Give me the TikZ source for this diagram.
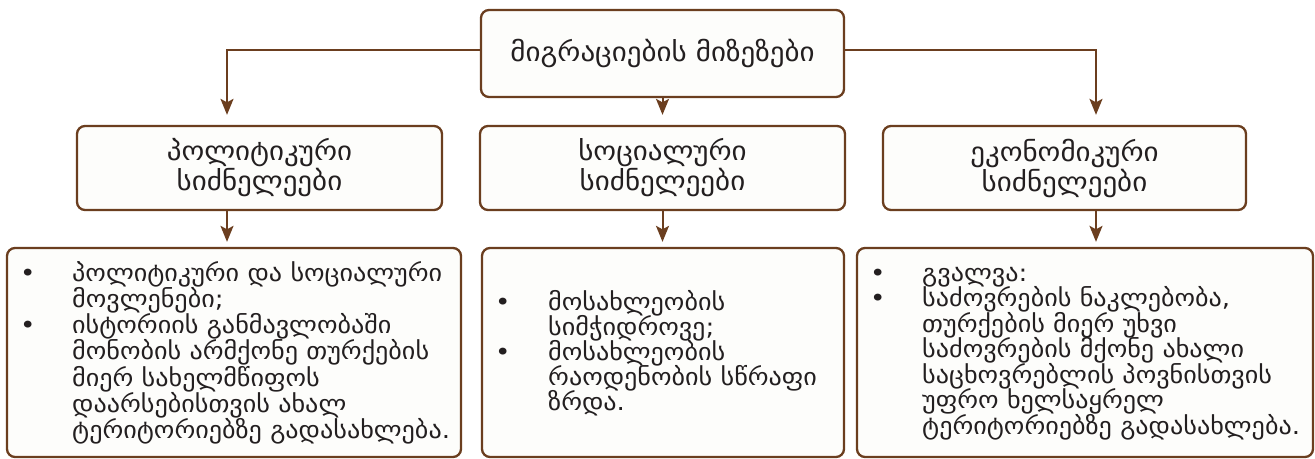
\documentclass[tikz,border=0pt]{standalone}
\usepackage{fontspec}
\newfontfamily\geo[FakeStretch=1.09]{DejaVu Sans}
\usetikzlibrary{arrows.meta,calc}
\definecolor{brn}{HTML}{6B3E1F}
\definecolor{boxfill}{HTML}{FDFDFB}
\definecolor{ink}{HTML}{231F20}
\newlength\geow
\newcommand\gbul[2]{\smash{\makebox[#1][l]{\textbullet}#2}}
\newcommand\gcont[2]{\smash{\hspace*{#1}#2}}
\newcommand\geohead{\geo\fontsize{\gfh}{30}\selectfont\lineskiplimit-100pt\relax}
\newcommand\geolist[1]{\geo\fontsize{\gfs}{#1}\selectfont}
\begin{document}
\settowidth\geow{\geo\fontsize{10}{12}\selectfont პოლიტიკური და სოციალური}%
\ifdim\geow<1pt \geow=150pt\fi
\pgfmathsetmacro\gfs{3700/\geow}%
\pgfmathsetmacro\gfh{1.11*\gfs}%
\begin{tikzpicture}[x=1pt,y=-1pt]
\tikzset{
  box/.style={draw=brn, line width=2.3pt, fill=boxfill, rounded corners=8pt, inner sep=0pt},
  headtxt/.style={text=ink, align=center, font=\geohead},
  listtxt/.style={text=ink, inner sep=0pt, anchor=base west},
  arr/.style={draw=brn, line width=2pt, -{Stealth[length=16pt,width=13pt,inset=3.5pt]}}
}
\useasboundingbox (0,0) rectangle (1315,458);
% top
\node[box, headtxt, minimum width=363pt, minimum height=87pt] (top) at (662.5,53.5) {მიგრაციების მიზეზები};
% middle row
\node[box, headtxt, minimum width=365pt, minimum height=84pt] (pol) at (259.5,168) {პოლიტიკური\\სიძნელეები};
\node[box, headtxt, minimum width=365pt, minimum height=84pt] (soc) at (662.5,168) {სოციალური\\სიძნელეები};
\node[box, headtxt, minimum width=363pt, minimum height=84pt] (eco) at (1064.5,168) {ეკონომიკური\\სიძნელეები};
% bottom row
\node[box, minimum width=454pt, minimum height=209pt] (b1) at (234,352.5) {};
\node[box, minimum width=362pt, minimum height=209pt] (b2) at (663,352.5) {};
\node[box, minimum width=456pt, minimum height=209pt] (b3) at (1085,352.5) {};
% list texts
\node[listtxt, font={\geolist{26.3}}] (t1) at (20,281) {\begin{tabular}[t]{@{}l@{}}
\gbul{52pt}{პოლიტიკური და სოციალური}\\
\gcont{52pt}{მოვლენები;}\\
\gbul{52pt}{ისტორიის განმავლობაში}\\
\gcont{52pt}{მონობის არმქონე თურქების}\\
\gcont{52pt}{მიერ სახელმწიფოს}\\
\gcont{52pt}{დაარსებისთვის ახალ}\\
\gcont{52pt}{ტერიტორიებზე გადასახლება.}
\end{tabular}};
\node[listtxt, font={\geolist{25}}] (t2) at (495,310) {\begin{tabular}[t]{@{}l@{}}
\gbul{53pt}{მოსახლეობის}\\
\gcont{53pt}{სიმჭიდროვე;}\\
\gbul{53pt}{მოსახლეობის}\\
\gcont{53pt}{რაოდენობის სწრაფი}\\
\gcont{53pt}{ზრდა.}
\end{tabular}};
\node[listtxt, font={\geolist{25.5}}] (t3) at (870,281) {\begin{tabular}[t]{@{}l@{}}
\gbul{52pt}{გვალვა:}\\
\gbul{52pt}{საძოვრების ნაკლებობა,}\\
\gcont{52pt}{თურქების მიერ უხვი}\\
\gcont{52pt}{საძოვრების მქონე ახალი}\\
\gcont{52pt}{საცხოვრებლის პოვნისთვის}\\
\gcont{52pt}{უფრო ხელსაყრელ}\\
\gcont{52pt}{ტერიტორიებზე გადასახლება.}
\end{tabular}};
% connectors
\draw[arr, shorten >=10pt] ([yshift=3.5pt]top.west) -| ([xshift=-32.5pt]pol.north);
\draw[arr, shorten >=10pt] (top.south) -- (top.south |- soc.north);
\draw[arr, shorten >=10pt] ([yshift=3.5pt]top.east) -| ([xshift=31.5pt]eco.north);
\draw[arr, shorten >=5pt] ([xshift=-32.5pt]pol.south) -- ([xshift=-32.5pt]pol.south |- b1.north);
\draw[arr, shorten >=5pt] (soc.south) -- (soc.south |- b2.north);
\draw[arr, shorten >=5pt] ([xshift=31.5pt]eco.south) -- ([xshift=31.5pt]eco.south |- b3.north);
\end{tikzpicture}
\end{document}
